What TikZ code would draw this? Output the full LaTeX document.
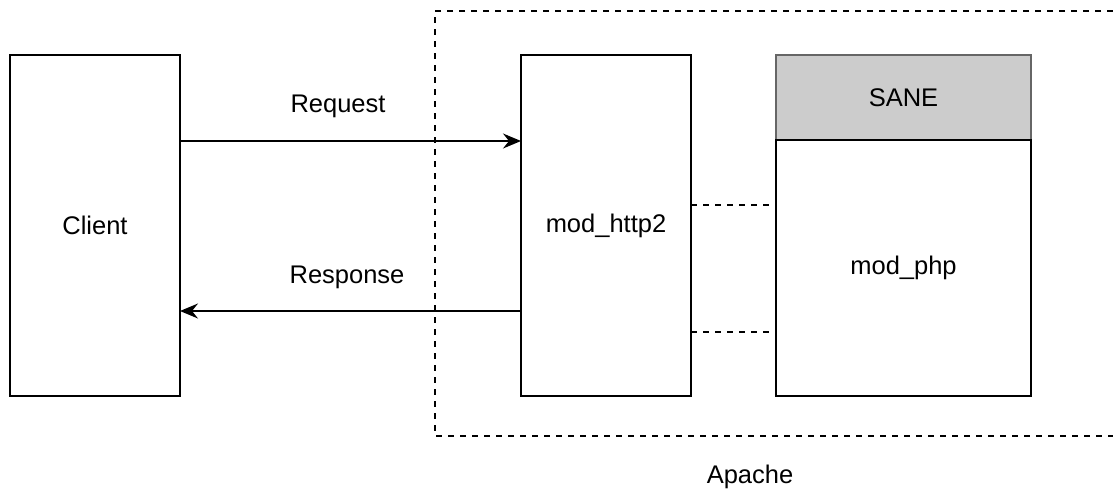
\documentclass[tikz,border=0pt]{standalone}
\usepackage{fontspec}
\setmainfont{Liberation Sans}
\usetikzlibrary{arrows.meta}
\definecolor{sanefill}{HTML}{CCCCCC}
\definecolor{saneline}{HTML}{666666}
\begin{document}
\begin{tikzpicture}[x=1pt,y=-1pt,
  box/.style={draw=black, line width=1.7pt, rectangle, inner sep=0pt, outer sep=0pt, font=\fontsize{25.5}{30}\selectfont},
  lbl/.style={inner sep=0pt, font=\fontsize{25.5}{30}\selectfont},
  arr/.style={line width=1.7pt, -{Stealth[length=18pt,width=15pt,inset=6pt]}},
  dsh/.style={line width=1.7pt, dash pattern=on 6pt off 6pt}]
\useasboundingbox (0,0) rectangle (1113,488);
\fill[white] (0,0) rectangle (1113,488);
\draw[dsh] (1125,11) -- (435,11) -- (435,436) -- (1125,436);
\node[box, minimum width=170pt, minimum height=341pt] (client) at (95,225.5) {Client};
\node[box, minimum width=170pt, minimum height=341pt] (http) at (606,225.5) {mod\_http2};
\node[box, draw=saneline, fill=sanefill, minimum width=255pt, minimum height=85pt] (sane) at (903.5,97.5) {SANE};
\node[box, minimum width=255pt, minimum height=256pt] (php) at (903.5,268) {mod\_php};
\coordinate (yreq) at (0,141);
\coordinate (yres) at (0,311);
\coordinate (yd1) at (0,205);
\coordinate (yd2) at (0,332);
\draw[arr] (client.east |- yreq) -- (http.west |- yreq);
\draw[arr] (http.west |- yres) -- (client.east |- yres);
\draw[dsh] (http.east |- yd1) -- (php.west |- yd1);
\draw[dsh] (http.east |- yd2) -- (php.west |- yd2);
\node[lbl] (req) at (338,106) {Request};
\node[lbl] (res) at (347,277) {Response};
\node[lbl] (apache) at (750,477) {Apache};
\end{tikzpicture}
\end{document}
